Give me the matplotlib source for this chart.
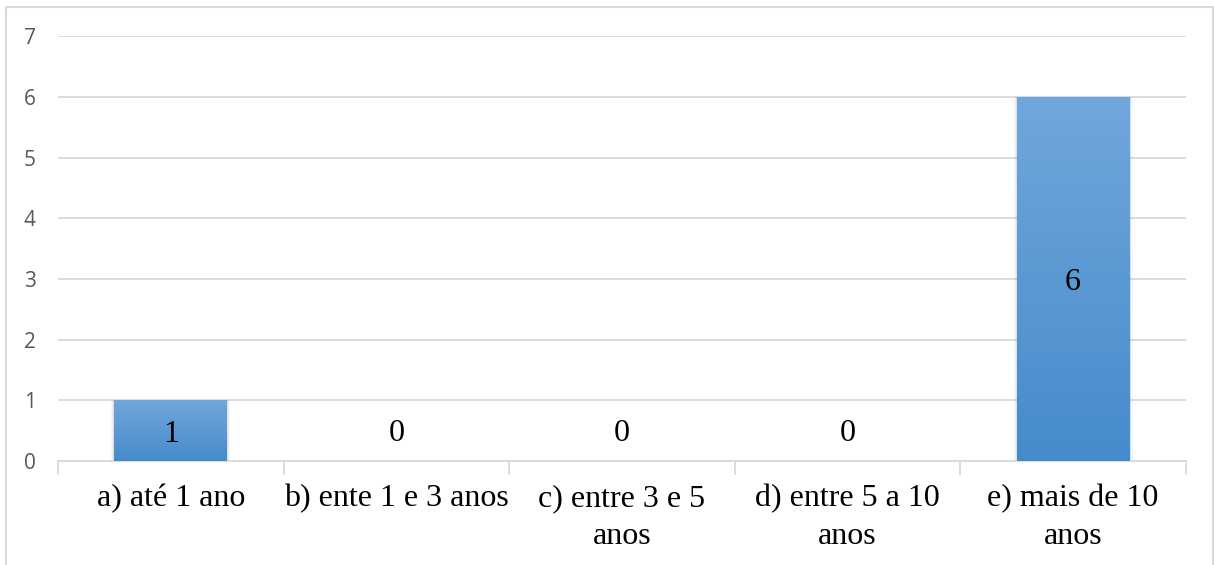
import numpy as np
import matplotlib.pyplot as plt
from matplotlib.patches import Rectangle

# Tempo de serviço - número de respostas por faixa
categorias = [
    "a) até 1 ano",
    "b) ente 1 e 3 anos",
    "c) entre 3 e 5\nanos",
    "d) entre 5 a 10\nanos",
    "e) mais de 10\nanos",
]
respostas = [1, 0, 0, 0, 6]
y_ticks = [0, 1, 2, 3, 4, 5, 6, 7]

TOP_COLOR = np.array([0x71, 0xa7, 0xdc]) / 255
BOTTOM_COLOR = np.array([0x45, 0x8b, 0xcb]) / 255
GRID_COLOR = "#d9d9d9"


def gradient_bars(ax, bars):
    # vertical gradient fill clipped to each bar, plus a faint shadow
    grad = np.linspace(0, 1, 256)[:, None, None]
    img = TOP_COLOR * (1 - grad) + BOTTOM_COLOR * grad
    for bar in bars:
        h = bar.get_height()
        if h <= 0:
            continue
        x0, w = bar.get_x(), bar.get_width()
        for k, a in zip([0.014, 0.009, 0.005], [0.03, 0.04, 0.05]):
            ax.add_patch(Rectangle((x0 - k, 0), w + 2 * k, h + k * 0.2,
                                   facecolor="black", alpha=a, lw=0, zorder=2))
        im = ax.imshow(img, extent=(x0, x0 + w, 0, h), aspect="auto",
                       origin="upper", zorder=3)
        im.set_clip_path(bar)
        bar.set_facecolor("none")


fig = plt.figure(figsize=(12.14, 5.65), dpi=100)
ax = fig.add_axes([0.0478, 0.184, 0.929, 0.752])

x = np.arange(len(categorias))
bars = ax.bar(x, respostas, width=0.5, color=BOTTOM_COLOR, lw=0, zorder=3)
gradient_bars(ax, bars)

for xi, v in zip(x, respostas):
    off = -2.5 if v > 0 else 20
    ax.annotate(str(v), (xi, v / 2), xytext=(0, off), textcoords="offset points",
                ha="center", va="center", fontsize=23,
                family="Liberation Serif", color="black", zorder=5)

ax.set_xlim(-0.5, len(categorias) - 0.5)
ax.set_ylim(0, 7)
ax.set_yticks(y_ticks)
ax.set_yticklabels([str(t) for t in y_ticks], fontsize=15, color="#595959",
                   family="Open Sans")
ax.tick_params(axis="y", length=0, pad=16)

# category labels between boundary tick marks
ax.set_xticks(x)
ax.set_xticklabels(categorias, fontsize=23, family="Liberation Serif",
                   linespacing=1.42, va="top")
ax.tick_params(axis="x", length=0, pad=16.5)
ax.set_xticks(np.arange(len(categorias) + 1) - 0.5, minor=True)
ax.tick_params(axis="x", which="minor", length=10, width=1.3, color=GRID_COLOR)

ax.grid(axis="y", color=GRID_COLOR, lw=1.3, zorder=0)
ax.set_axisbelow(True)
for s in ["top", "right", "left"]:
    ax.spines[s].set_visible(False)
ax.spines["bottom"].set_color(GRID_COLOR)
ax.spines["bottom"].set_linewidth(1.3)

# outer chart border
fig.add_artist(Rectangle((6 / 1214, -0.01), 1207 / 1214, 1 - 7 / 565 + 0.01,
                         transform=fig.transFigure, fill=False,
                         edgecolor=GRID_COLOR, lw=1.5))

fig.savefig("out.png", dpi=100)
